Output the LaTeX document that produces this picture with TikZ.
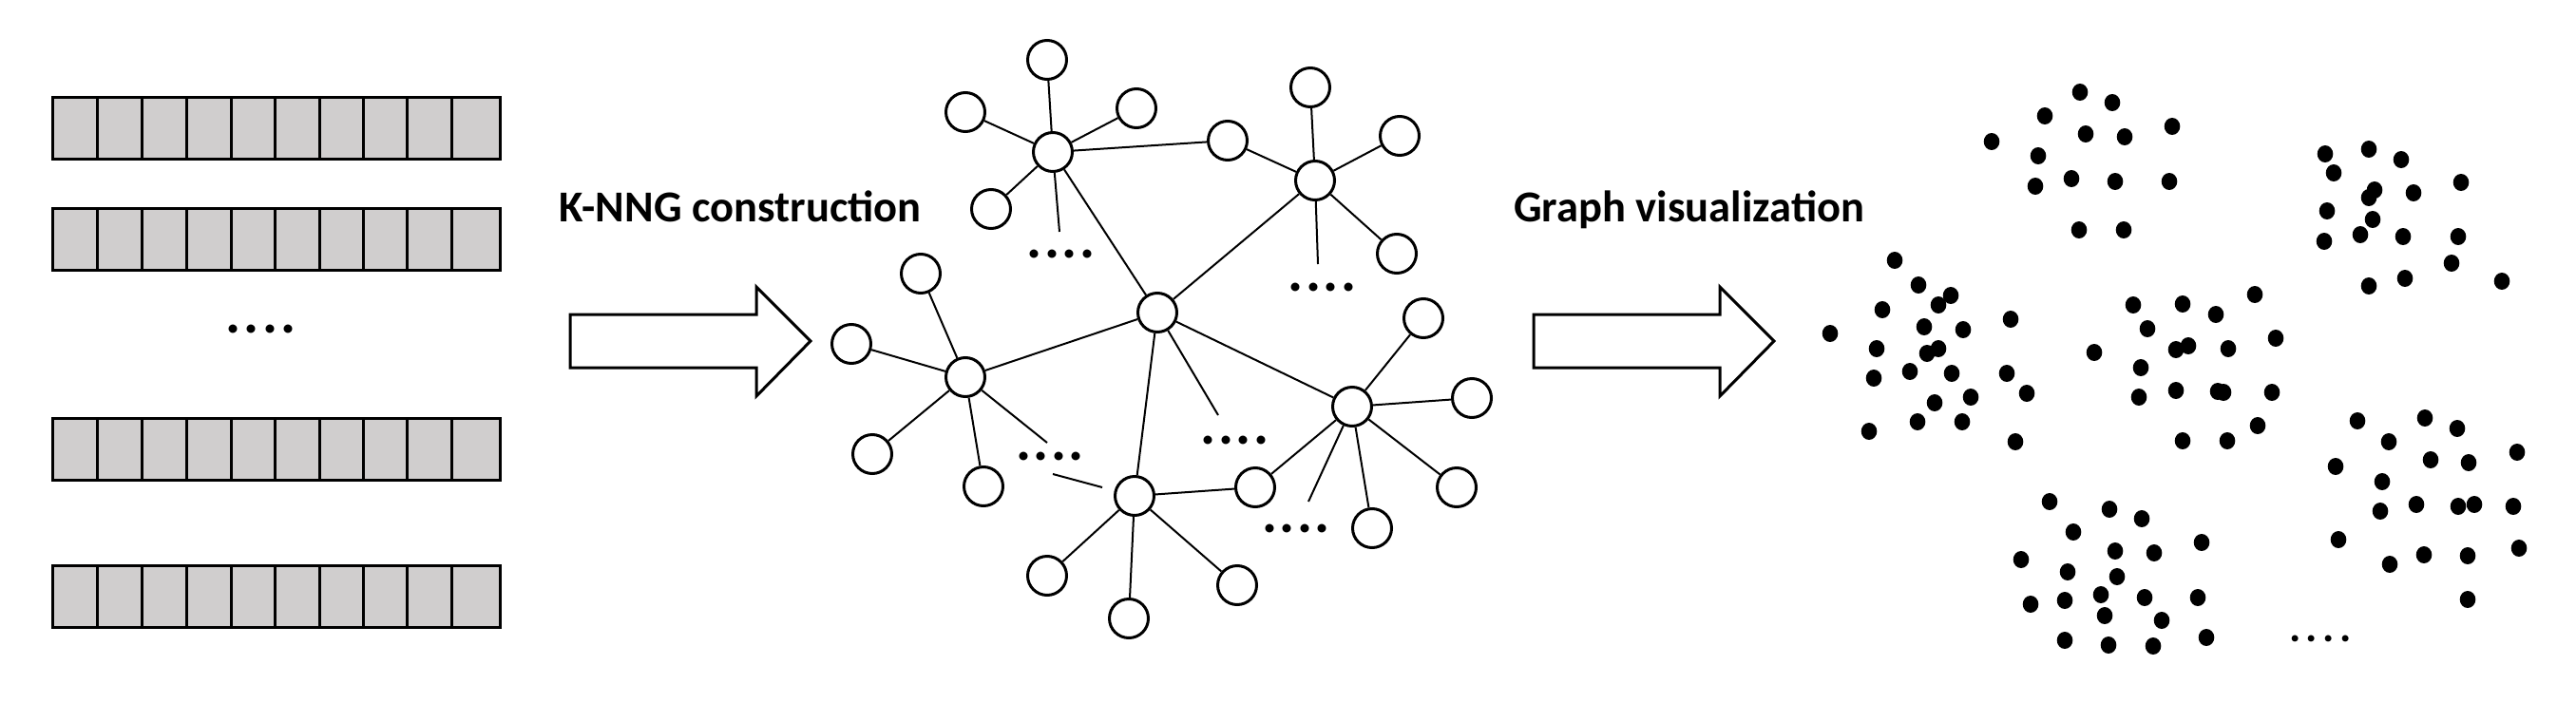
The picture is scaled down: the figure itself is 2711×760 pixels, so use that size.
\documentclass[tikz,border=0pt]{standalone}
\usepackage{fontspec}
\setmainfont{Carlito}
\usepackage{tikz}
\definecolor{cellgray}{RGB}{208,206,206}

\newcommand{\fourdots}[1]{.\kern#1.\kern#1.\kern#1.}

\tikzset{
    cell/.style={draw, fill=cellgray, line width=3pt},
    vtx/.style={circle, draw, line width=3pt, fill=white, minimum size=41pt, inner sep=0pt},
    link/.style={line width=2pt},
    bigarrow/.style={draw, fill=white, line width=3pt, line join=miter},
    steplabel/.style={font=\bfseries\fontsize{46.5}{52}\selectfont, anchor=base west, inner sep=0pt},
    dotrow/.style={font=\bfseries\fontsize{60}{60}\selectfont, inner sep=0pt},
    smalldotrow/.style={font=\bfseries\fontsize{46}{46}\selectfont, inner sep=0pt}
}

\begin{document}
\begin{tikzpicture}[x=1pt, y=-1pt]
    \useasboundingbox (0,0) rectangle (2711,760);

    % Draw the feature vectors
    \foreach \y in {102, 219, 440, 595} {
        \draw[cell] (55,\y) rectangle (526,\y+65);
        \foreach \x in {102.7, 149.8, 196.4, 243, 289.5, 336, 382, 428.6, 475.2}
            \draw[line width=3pt] (\x,\y) -- (\x,\y+65);
    }
    \node[dotrow] (vecdots) at (274.5,346) {\fourdots{3.5pt}};

    % Block arrows and step labels
    \foreach \dx in {0, 1014}
        \draw[bigarrow] (600+\dx,331) -- (796+\dx,331) -- (796+\dx,302) -- (853+\dx,359)
            -- (796+\dx,417) -- (796+\dx,387) -- (600+\dx,387) -- cycle;
    \node[steplabel] (knng) at (588,233) {K-NNG construction};
    \node[steplabel] (graphvis) at (1593,233) {Graph visualization};

    % Hubs of the k-NN graph
    \node[vtx] (A) at (1108,160) {};
    \node[vtx] (B) at (1016,397) {};
    \node[vtx] (C) at (1218,329) {};
    \node[vtx] (D) at (1384,190) {};
    \node[vtx] (E) at (1423,428) {};
    \node[vtx] (F) at (1194,522) {};

    % Leaves
    \node[vtx] (a1) at (1102,63) {};
    \node[vtx] (a2) at (1016,118) {};
    \node[vtx] (a3) at (1196,114) {};
    \node[vtx] (a4) at (1043,220) {};
    \node[vtx] (s1) at (1292,148) {};
    \node[vtx] (d1) at (1379,92) {};
    \node[vtx] (d2) at (1473,143) {};
    \node[vtx] (d3) at (1470,267) {};
    \node[vtx] (b1) at (969,288) {};
    \node[vtx] (b2) at (896,362) {};
    \node[vtx] (b3) at (918,478) {};
    \node[vtx] (b4) at (1035,512) {};
    \node[vtx] (e1) at (1498,335) {};
    \node[vtx] (e2) at (1549,419) {};
    \node[vtx] (e3) at (1533,513) {};
    \node[vtx] (e4) at (1444,556) {};
    \node[vtx] (s2) at (1321,513) {};
    \node[vtx] (f1) at (1102,606) {};
    \node[vtx] (f2) at (1188,651) {};
    \node[vtx] (f3) at (1302,616) {};

    % Free ends of the cut edges
    \coordinate (Aend) at (1115,244);
    \coordinate (Dend) at (1387,278);
    \coordinate (Bend) at (1102,466);
    \coordinate (Cend) at (1282,437);
    \coordinate (Eend) at (1377,528);
    \coordinate (Fcut1) at (1108,499);
    \coordinate (Fcut2) at (1160,513);

    % Connect the vertices
    \foreach \u/\v in {A/a1, A/a2, A/a3, A/a4, A/s1, A/C, D/s1, D/d1, D/d2, D/d3, D/C,
                       B/b1, B/b2, B/b3, B/b4, B/C, C/F, C/E, E/e1, E/e2, E/e3, E/e4,
                       E/s2, F/s2, F/f1, F/f2, F/f3, A/Aend, D/Dend, B/Bend, C/Cend, E/Eend}
        \draw[link] (\u) -- (\v);
    \draw[link] (Fcut1) -- (Fcut2);

    % Omitted neighbours
    \node[dotrow] (Adots) at (1116.5,267) {\fourdots{2.5pt}};
    \node[dotrow] (Ddots) at (1391.5,302) {\fourdots{2.5pt}};
    \node[dotrow] (Bdots) at (1105,480) {\fourdots{2.5pt}};
    \node[dotrow] (Cdots) at (1299.5,463) {\fourdots{2.5pt}};
    \node[dotrow] (Edots) at (1364,556) {\fourdots{2.5pt}};

    % Embedded points, six clusters
    \foreach \p in {(2096,149),(2152,122),(2189,97),(2223,108),(2286,133),(2195,141),(2236,144),
                    (2145,164),(2142,196),(2180,188),(2226,191),(2283,191),(2188,242),(2235,242),
                    (1994,274),(2019,300),(2053,311),(2040,321),(1981,326),(2116,336),(1926,351),
                    (2025,344),(2066,347),(1975,367),(2040,367),(2028,372),(1972,398),(2010,391),
                    (2054,393),(2112,393),(2133,414),(2036,424),(2074,418),(2018,444),(2065,444),
                    (1967,454),(2121,465),
                    (2245,321),(2297,320),(2332,331),(2373,310),(2260,346),(2395,356),(2204,371),
                    (2290,368),(2303,364),(2345,367),(2253,387),(2251,418),(2290,411),(2334,412),
                    (2340,413),(2391,413),(2376,448),(2297,464),(2344,464),
                    (2447,162),(2493,157),(2527,168),(2456,182),(2590,192),(2499,200),(2493,208),
                    (2540,203),(2449,222),(2497,231),(2446,254),(2484,247),(2529,249),(2587,249),
                    (2580,277),(2493,301),(2531,293),(2633,296),
                    (2157,528),(2220,536),(2254,546),(2182,560),(2226,580),(2267,582),(2127,589),
                    (2176,602),(2228,607),(2211,626),(2257,629),(2137,636),(2173,632),(2215,648),
                    (2275,653),(2173,674),(2219,679),(2266,680),(2317,571),(2313,629),(2322,671),
                    (2481,443),(2552,440),(2586,451),(2514,465),(2649,476),(2458,491),(2558,484),
                    (2598,487),(2507,507),(2505,538),(2543,531),(2587,533),(2604,531),(2645,533),
                    (2461,568),(2515,594),(2551,584),(2597,585),(2651,577),(2597,631)}
        \fill \p circle[x radius=8.3pt, y radius=9pt];
    \node[smalldotrow] (ptdots) at (2442,672) {\fourdots{5.5pt}};
\end{tikzpicture}
\end{document}
